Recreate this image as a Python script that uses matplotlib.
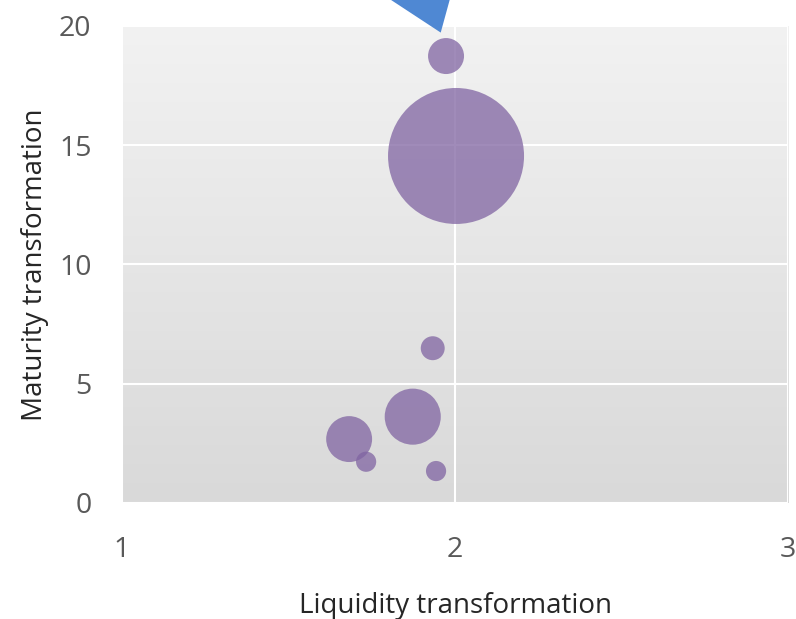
import numpy as np
import matplotlib
matplotlib.use("Agg")
import matplotlib.pyplot as plt
from matplotlib.patches import Polygon

# bubble data
liquidity = [1.973, 2.003, 1.933, 1.873, 1.682, 1.733, 1.943]
maturity = [18.74, 14.55, 6.49, 3.62, 2.68, 1.73, 1.34]
bubble_size = [7.0, 100.0, 3.1, 17.0, 11.4, 2.2, 2.2]

x_ticks = [1, 2, 3]
y_ticks = [0, 5, 10, 15, 20]

plt.rcParams['font.family'] = ['Open Sans', 'DejaVu Sans']
text_col = '#595959'

fig = plt.figure(figsize=(7.96, 6.19), dpi=100)
ax = fig.add_axes([0.1533, 0.1874, 0.8367, 0.7706])

# gradient background like the office chart
grad = np.linspace(0, 1, 256).reshape(-1, 1)
ax.imshow(grad, extent=[0, 1, 0, 1], transform=ax.transAxes, aspect='auto',
          cmap=matplotlib.colors.LinearSegmentedColormap.from_list('bg', ['#F2F2F2', '#D9D9D9']),
          zorder=0)

ax.set_xlim(1, 3)
ax.set_ylim(0, 20)
ax.set_xticks(x_ticks)
ax.set_yticks(y_ticks)
ax.grid(True, color='white', linewidth=1.5, zorder=1)
ax.set_axisbelow(True)
for s in ax.spines.values():
    s.set_visible(False)

# scale so the largest bubble has ~68 px radius
scale = (2 * 68 * 0.72) ** 2 / max(bubble_size)
ax.scatter(liquidity, maturity, s=[b * scale for b in bubble_size],
           color='#8064A2', alpha=0.75, edgecolors='none', zorder=3)

ax.tick_params(length=0, labelsize=20.5, colors=text_col)
ax.tick_params(axis='x', pad=24)
ax.tick_params(axis='y', pad=22)
ax.set_xlabel('Liquidity transformation', fontsize=20, color='#262626', labelpad=20)
ax.set_ylabel('Maturity transformation', fontsize=20, color='#262626', labelpad=7)

# blue arrow head pointing at the top bubble
tri = Polygon([[0.3980, 1.06], [0.4930, 1.06], [0.4785, 0.9862]], closed=True,
              transform=ax.transAxes, facecolor='#4F88D3', edgecolor='none',
              clip_on=False, zorder=5)
ax.add_patch(tri)

fig.savefig('out.png', dpi=100)
